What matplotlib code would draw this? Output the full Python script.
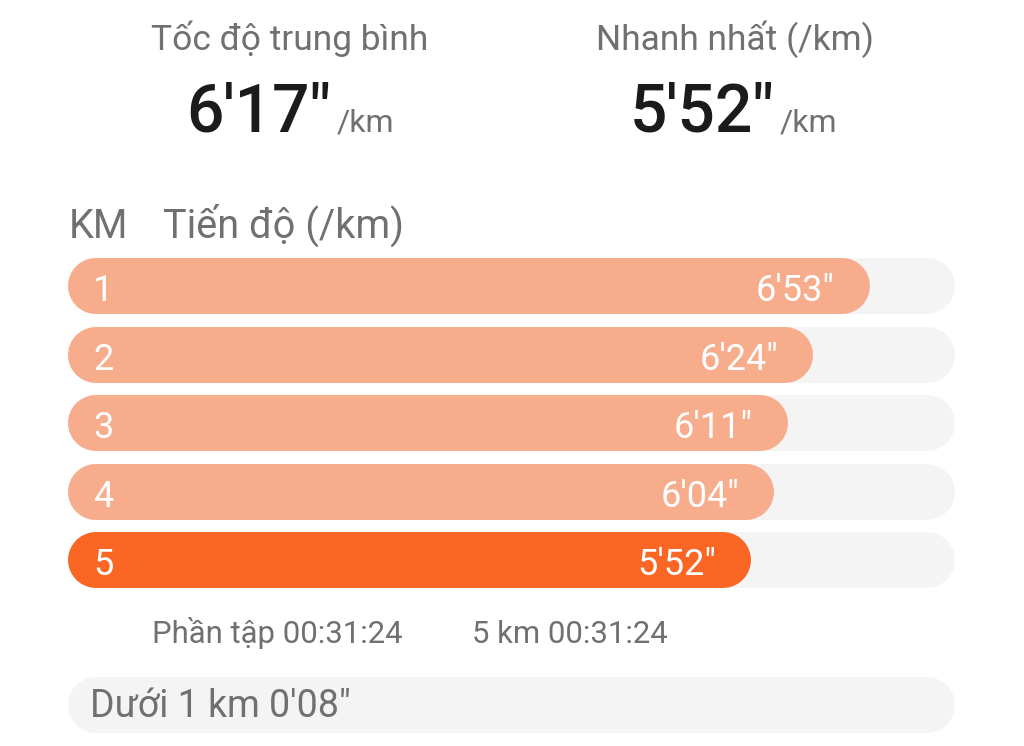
import matplotlib
matplotlib.use('Agg')
import matplotlib.pyplot as plt


# dữ liệu
km_labels = ['1', '2', '3', '4', '5']
pace_labels = ["6'53\"", "6'24\"", "6'11\"", "6'04\"", "5'52\""]
pace_seconds = [413, 384, 371, 364, 352]
track_max = 457
fastest_idx = 4

avg_title = 'Tốc độ trung bình'
avg_value = "6'17\""
best_title = 'Nhanh nhất (/km)'
best_value = "5'52\""
unit = '/km'
col_km = 'KM'
col_pace = 'Tiến độ (/km)'
split_text = 'Phần tập 00:31:24'
total_text = '5 km 00:31:24'
rest_text = "Dưới 1 km 0'08\""
rest_row = 6.117

W, H = 1024, 746
FONT = ['Roboto', 'DejaVu Sans']
GREY = '#707070'
DARK = '#1b1b1b'
LIGHT_BAR = '#F7AC8B'
STRONG_BAR = '#FA6624'
TRACK = '#F4F4F4'
BAR_PX = 56

plt.rcParams['font.family'] = FONT


def px(x, y):
    return x / W, 1 - y / H


def pill(ax, start, end, y, color, r):
    # vạch dày đầu tròn = thanh bo tròn hai đầu
    ax.plot([start + r, end - r], [y, y], color=color, linewidth=BAR_PX * 0.72,
            solid_capstyle='round', zorder=2)


fig = plt.figure(figsize=(W / 100, H / 100), dpi=100)
fig.patch.set_facecolor('white')

# tiêu đề phía trên
fig.text(*px(290, 50), avg_title, ha='center', va='baseline', fontsize=25.5, color=GREY)
fig.text(*px(735, 50), best_title, ha='center', va='baseline', fontsize=25.5, color=GREY)
fig.text(*px(186, 132), avg_value, ha='left', va='baseline', fontsize=47.5,
         color=DARK, fontweight='medium')
fig.text(*px(337, 131), unit, ha='left', va='baseline', fontsize=23, color=GREY)
fig.text(*px(630, 132), best_value, ha='left', va='baseline', fontsize=47.5,
         color=DARK, fontweight='medium')
fig.text(*px(780, 131), unit, ha='left', va='baseline', fontsize=23, color=GREY)

fig.text(*px(69, 238), col_km, ha='left', va='baseline', fontsize=28.5, color=GREY)
fig.text(*px(163, 238), col_pace, ha='left', va='baseline', fontsize=28.5, color=GREY)

# trục thanh
left, right, top, bottom = 68, 955, 258, 733
ax = fig.add_axes([left / W, 1 - bottom / H, (right - left) / W, (bottom - top) / H])
ylim_top = -0.409
ylim_bot = ylim_top + (bottom - top) / 68.5
ax.set_xlim(0, track_max)
ax.set_ylim(ylim_bot, ylim_top)
ax.axis('off')

ppx = (right - left) / track_max
r = (BAR_PX / 2) / ppx

for i, (lab, val, txt) in enumerate(zip(km_labels, pace_seconds, pace_labels)):
    pill(ax, 0, track_max, i, TRACK, r)
    color = STRONG_BAR if i == fastest_idx else LIGHT_BAR
    pill(ax, 0, val, i, color, r)
    ax.annotate(lab, xy=(0, i), xytext=(25 * 0.72, -15 * 0.72), textcoords='offset points',
                ha='left', va='baseline', fontsize=26, color='white', zorder=3)
    ax.annotate(txt, xy=(val, i), xytext=(-35 * 0.72, -15 * 0.72), textcoords='offset points',
                ha='right', va='baseline', fontsize=26, color='white', zorder=3)

pill(ax, 0, track_max, rest_row, TRACK, r)
ax.annotate(rest_text, xy=(0, rest_row), xytext=(22 * 0.72, -12 * 0.72),
            textcoords='offset points', ha='left', va='baseline', fontsize=27, color=GREY,
            zorder=3)

fig.text(*px(152, 643), split_text, ha='left', va='baseline', fontsize=22.4, color=GREY)
fig.text(*px(472, 643), total_text, ha='left', va='baseline', fontsize=22.4, color=GREY)

fig.savefig('out.png', dpi=100, facecolor='white')
